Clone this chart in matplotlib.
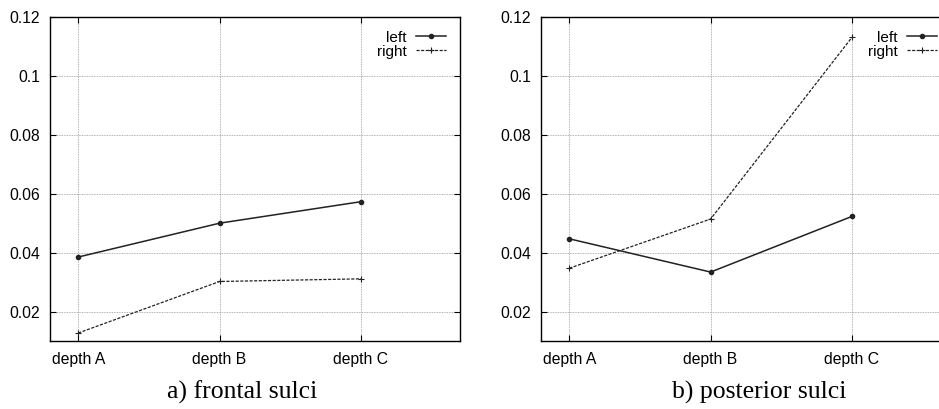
import numpy as np
import matplotlib.pyplot as plt

plt.rcParams["font.family"] = ["Liberation Sans", "DejaVu Sans"]

depths = ["depth A", "depth B", "depth C"]
yticks = [0.02, 0.04, 0.06, 0.08, 0.1, 0.12]
ytick_labels = ["0.02", "0.04", "0.06", "0.08", "0.1", "0.12"]

frontal_left = [0.0385, 0.0500, 0.0573]
frontal_right = [0.0127, 0.0302, 0.0311]
posterior_left = [0.0447, 0.0334, 0.0523]
posterior_right = [0.0347, 0.0514, 0.1131]

captions = ["a) frontal sulci", "b) posterior sulci"]

fig = plt.figure(figsize=(9.39, 4.09), dpi=100)
ax1 = fig.add_axes([0.0532, 0.1663, 0.4366, 0.7921])
ax2 = fig.add_axes([0.5761, 0.1663, 0.4366, 0.7921])

x = np.arange(len(depths))

for ax, left, right in [(ax1, frontal_left, frontal_right),
                        (ax2, posterior_left, posterior_right)]:
    ax.plot(x, left, color="#222222", lw=1.1, marker="o", ms=3, label="left")
    ax.plot(x, right, color="#222222", lw=0.9, ls=(0, (2.5, 1.2)), marker="+", ms=4,
            mew=0.8, label="right")
    ax.set_xlim(-0.2, 2.7)
    ax.set_ylim(0.01, 0.12)
    ax.set_xticks(x)
    ax.set_xticklabels(depths, fontsize=11.3)
    ax.set_yticks(yticks)
    ax.set_yticklabels(ytick_labels, fontsize=11.3)
    ax.tick_params(direction="in", length=4, width=0.8, top=True, right=True, pad=8)
    ax.tick_params(axis="y", pad=7)
    ax.grid(True, color="#999999", linestyle=(0, (1, 1)), linewidth=0.6)
    for sp in ax.spines.values():
        sp.set_linewidth(1.0)
    ax.legend(loc="upper right", frameon=False, markerfirst=False, alignment="right",
              fontsize=11, handlelength=2.0, handletextpad=0.6, labelspacing=0.0,
              borderaxespad=0.5)

fig.text(0.2577, 0.04, captions[0], ha="center", va="center",
         fontsize=18.5, family="Liberation Serif")
fig.text(0.8083, 0.04, captions[1], ha="center", va="center",
         fontsize=18.5, family="Liberation Serif")

plt.savefig("out.png", dpi=100)
